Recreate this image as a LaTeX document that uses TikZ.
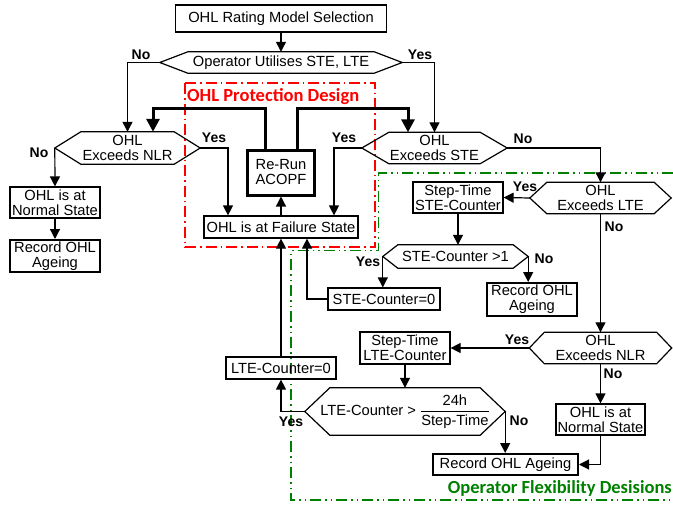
\documentclass[tikz,border=0pt]{standalone}
\usepackage{fontspec}
\setmainfont{Liberation Sans}
\newfontfamily\calibrifont{Carlito}
\usepackage{xcolor}
\usepackage{tikz}
\usetikzlibrary{arrows.meta}
\definecolor{flexgreen}{RGB}{0,128,0}

\tikzset{
 box/.style={draw,line width=1.2pt,align=center,inner sep=0.5pt,font=\fontsize{14.7}{15}\selectfont},
 recbox/.style={box,line width=2pt},
 runbox/.style={box,line width=3pt},
 hexbox/.style={align=center,inner sep=0pt,font=\fontsize{14.7}{15}\selectfont},
 hexline/.style={line width=1.2pt},
 arr/.style={line width=1.2pt,-{Triangle[length=10pt,width=10pt]}},
 thkarr/.style={line width=3pt,-{Triangle[length=13pt,width=13pt]}},
 lbl/.style={font=\fontsize{14}{14}\selectfont\bfseries,inner sep=0pt},
 ttl/.style={font=\fontsize{18.5}{18.5}\selectfont\calibrifont\bfseries,inner sep=0pt},
}
\newcommand{\hexline}[2]{\draw[hexline] (#1.west) -- ([xshift=#2]#1.north west) -- ([xshift=-#2]#1.north east) -- (#1.east) -- ([xshift=-#2]#1.south east) -- ([xshift=#2]#1.south west) -- cycle;}

\begin{document}
\begin{tikzpicture}[x=1pt,y=-1pt]
\useasboundingbox (0,0) rectangle (673,506);
%\draw[help lines] (0,0) grid[step=50] (673,506);
\draw[red,line width=1.3pt,dash pattern=on 11pt off 4pt on 1.5pt off 4pt](185,83) rectangle (375,247);
\draw[flexgreen,line width=1.3pt,dash pattern=on 11pt off 4pt on 1.5pt off 4pt on 1.5pt off 4pt]
(673,173)--(378.5,173)--(378.5,250.5)--(291,250.5)--(291,500)--(673,500);
\node[ttl,text=red,anchor=west] (prot) at (187,97) {OHL Protection Design};
\node[ttl,text=flexgreen,anchor=east] (flex) at (672,488.5) {Operator Flexibility Desisions};

\node[box,minimum width=211pt,minimum height=27pt] (sel) at (281,18.5) {OHL Rating Model Selection};
\node[hexbox,minimum width=242pt,minimum height=21pt] (util) at (281,62.5) {Operator Utilises STE, LTE};
\node[hexbox,minimum width=145pt,minimum height=32pt] (nlrA) at (127.5,148) {OHL\\Exceeds NLR};
\node[hexbox,minimum width=145pt,minimum height=31pt] (ste) at (434.5,148) {OHL\\Exceeds STE};
\node[runbox,minimum width=67pt,minimum height=45pt] (rerun) at (281,172.5) {Re-Run\\ACOPF};
\node[box,minimum width=154pt,minimum height=22pt] (fail) at (281,227) {OHL is at Failure State};
\node[box,minimum width=90pt,minimum height=31pt] (normA) at (55,202.5) {OHL is at\\Normal State};
\node[recbox,minimum width=90pt,minimum height=32pt] (recA) at (55,256) {Record OHL\\Ageing};
\node[hexbox,minimum width=141pt,minimum height=31pt] (lte) at (600.5,198) {OHL\\Exceeds LTE};
\node[box,minimum width=90pt,minimum height=31pt] (stepS) at (458,197.5) {Step-Time\\STE-Counter};
\node[hexbox,minimum width=145pt,minimum height=23pt] (steGt) at (455.5,256.5) {STE-Counter >1};
\node[box,minimum width=112pt,minimum height=22pt] (steZero) at (384,299) {STE-Counter=0};
\node[recbox,minimum width=90pt,minimum height=33pt] (recB) at (532,299.5) {Record OHL\\Ageing};
\node[hexbox,minimum width=142pt,minimum height=31pt] (nlrB) at (600.5,348) {OHL\\Exceeds NLR};
\node[box,minimum width=90pt,minimum height=32pt] (stepL) at (405,348) {Step-Time\\LTE-Counter};
\node[hexbox,minimum width=200pt,minimum height=47pt] (lteGt) at (405,411.5) {LTE-Counter > $\displaystyle\frac{\mbox{24h}}{\mbox{Step-Time}}$};
\node[box,minimum width=110pt,minimum height=22pt] (lteZero) at (281,368) {LTE-Counter=0};
\node[box,minimum width=89pt,minimum height=31pt] (normB) at (600.5,419.5) {OHL is at\\Normal State};
\node[recbox,minimum width=145pt,minimum height=21pt] (recC) at (505.5,464.5) {Record OHL Ageing};

\hexline{util}{28pt}
\hexline{nlrA}{26pt}
\hexline{ste}{27pt}
\hexline{lte}{17pt}
\hexline{steGt}{15pt}
\hexline{nlrB}{15pt}
\hexline{lteGt}{25pt}

\node[lbl] (n1) at (141,55) {No};
\node[lbl] (y1) at (420,55) {Yes};
\node[lbl] (y2) at (214,137.5) {Yes};
\node[lbl] (n2) at (39,153) {No};
\node[lbl] (y3) at (344,137.5) {Yes};
\node[lbl] (n3) at (523,139) {No};
\node[lbl] (y4) at (525,187) {Yes};
\node[lbl] (n4) at (614,227) {No};
\node[lbl] (y5) at (368,261.5) {Yes};
\node[lbl] (n5) at (544,258.5) {No};
\node[lbl] (y6) at (517,339.5) {Yes};
\node[lbl] (n6) at (613,374) {No};
\node[lbl] (y7) at (291,422) {Yes};
\node[lbl] (n7) at (519,420.5) {No};

\draw[arr] (sel.south) -- (util.north);
\draw[arr] (util.west) -| (nlrA.north);
\draw[arr] (util.east) -| (ste.north);
\draw[thkarr] ([xshift=-16pt]rerun.north) -- ++(0,-40) -| ([xshift=25.5pt]nlrA.north);
\draw[thkarr] ([xshift=16pt]rerun.north) -- ++(0,-40) -| ([xshift=-26.5pt]ste.north);
\draw[arr] (nlrA.east) -| ([xshift=-53pt]fail.north);
\draw[arr] (nlrA.west) -- (normA.north);
\draw[arr] (normA) -- (recA);
\draw[arr] (ste.west) -| ([xshift=53pt]fail.north);
\draw[arr] (ste.east) -| (lte.north);
\draw[arr] (fail.north) -- (rerun.south);
\draw[arr] (lte.west) -- (stepS.east);
\draw[arr] (lte.south) -- (nlrB.north);
\draw[arr] (stepS.south) -- (stepS.south |- steGt.north);
\draw[arr] (steGt.west) -- (steGt.west |- steZero.north);
\draw[arr] (steGt.east) -- (steGt.east |- recB.north);
\draw[arr] (steZero.west) -| ([xshift=26pt]fail.south);
\draw[arr] (nlrB.west) -- (stepL.east);
\draw[arr] (nlrB.south) -- (normB.north);
\draw[arr] (stepL.south) -- (lteGt.north);
\draw[arr] (lteGt.west) -| (lteZero.south);
\draw[arr] (lteZero.north) -- (fail.south);
\draw[arr] (lteGt.east) -- (lteGt.east |- recC.north);
\draw[arr] (normB.south) |- (recC.east);
\end{tikzpicture}
\end{document}
